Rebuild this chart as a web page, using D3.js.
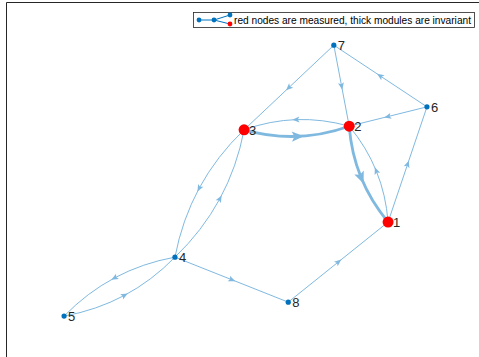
<!DOCTYPE html>
<html>
<head>
<meta charset="utf-8">
<script src="https://cdn.jsdelivr.net/npm/d3@7"></script>
<style>
body { margin:0; background:#fff; }
text { font-family: "Liberation Sans", Arial, sans-serif; }
</style>
</head>
<body>
<div id="chart"></div>
<script>
// graph data
var nodeNames = ["1","2","3","4","5","6","7","8"];
var nodeX = [7.96, 7.15, 4.96, 3.52, 1.21, 8.77, 6.83, 5.88];
var nodeY = [3.11, 5.24, 5.16, 2.33, 1.02, 5.67, 7.04, 1.33];
var measured = ["1","2","3"];
var edgeSource = [1,1,2,2,3,3,4,4,4,5,6,6,7,7,8];
var edgeTarget = [2,6,1,3,2,4,3,5,8,4,2,7,2,3,1];
var invariant = ["2-1","3-2"];
var legendText = "red nodes are measured, thick modules are invariant";

var w = 479, h = 357;
var svg = d3.select("#chart").append("svg").attr("width", w).attr("height", h);

var x = d3.scaleLinear().domain([0, 10]).range([6, 486]);
var y = d3.scaleLinear().domain([0, 8]).range([362, 2]);

var edgeColor = "#80b9e0";

// axes box (cropped at right/bottom)
svg.append("path")
  .attr("d", "M6.5," + h + "V2.5H" + w)
  .attr("fill", "none").attr("stroke", "#262626").attr("stroke-width", 1);

var keys = edgeSource.map(function(s, i){ return s + "-" + edgeTarget[i]; });

var edges = edgeSource.map(function(s, i) {
  var t = edgeTarget[i];
  var x0 = x(nodeX[s-1]), y0 = y(nodeY[s-1]);
  var x1 = x(nodeX[t-1]), y1 = y(nodeY[t-1]);
  var dx = x1 - x0, dy = y1 - y0;
  var curved = keys.indexOf(t + "-" + s) >= 0;
  var k = curved ? 0.16 : 0;
  var cx = (x0 + x1)/2 - dy * k, cy = (y0 + y1)/2 + dx * k;
  // midpoint of quadratic bezier
  var mx = 0.25*x0 + 0.5*cx + 0.25*x1, my = 0.25*y0 + 0.5*cy + 0.25*y1;
  return {x0:x0, y0:y0, x1:x1, y1:y1, cx:cx, cy:cy, mx:mx, my:my,
          ang: Math.atan2(dy, dx) * 180 / Math.PI,
          thick: invariant.indexOf(keys[i]) >= 0};
});

var eg = svg.append("g");
eg.selectAll("path.edge")
  .data(edges)
  .enter()
  .append("path")
  .attr("class", "edge")
  .attr("d", function(d){ return "M" + d.x0 + "," + d.y0 + "Q" + d.cx + "," + d.cy + " " + d.x1 + "," + d.y1; })
  .attr("fill", "none")
  .attr("stroke", edgeColor)
  .attr("stroke-width", function(d){ return d.thick ? 2.8 : 1; });

eg.selectAll("path.arrow")
  .data(edges)
  .enter()
  .append("path")
  .attr("class", "arrow")
  .attr("d", function(d){
    var s = d.thick ? 1.7 : 1;
    return "M" + (4*s) + ",0L" + (-3*s) + "," + (-3*s) + "L" + (-1.5*s) + ",0L" + (-3*s) + "," + (3*s) + "Z";
  })
  .attr("transform", function(d){ return "translate(" + d.mx + "," + d.my + ") rotate(" + d.ang + ")"; })
  .attr("fill", edgeColor);

// nodes
var ng = svg.append("g");
ng.selectAll("circle")
  .data(nodeNames)
  .enter()
  .append("circle")
  .attr("cx", function(d, i){ return x(nodeX[i]); })
  .attr("cy", function(d, i){ return y(nodeY[i]); })
  .attr("r", function(d){ return measured.indexOf(d) >= 0 ? 5.5 : 2.6; })
  .attr("fill", function(d){ return measured.indexOf(d) >= 0 ? "#ff0000" : "#0072bd"; });

ng.selectAll("text")
  .data(nodeNames)
  .enter()
  .append("text")
  .attr("x", function(d, i){ return x(nodeX[i]) + (measured.indexOf(d) >= 0 ? 5 : 4); })
  .attr("y", function(d, i){ return y(nodeY[i]) + 5; })
  .attr("font-size", 13)
  .attr("fill", "#262626")
  .text(function(d){ return d; });

// legend
var lg = svg.append("g");
lg.append("rect")
  .attr("x", 193.5).attr("y", 12.5).attr("width", 281).attr("height", 15)
  .attr("fill", "#fff").attr("stroke", "#262626").attr("stroke-width", 0.8);
lg.append("path")
  .attr("d", "M199,20H214L230,15M214,20L230,24")
  .attr("fill", "none").attr("stroke", "#0072bd").attr("stroke-width", 1);
[[199,20,"#0072bd"],[214,20,"#0072bd"],[230,15,"#0072bd"],[230,24,"#ff0000"]].forEach(function(p){
  lg.append("circle").attr("cx", p[0]).attr("cy", p[1]).attr("r", 2.4).attr("fill", p[2]);
});
lg.append("text")
  .attr("x", 234).attr("y", 23.8)
  .attr("font-size", 10)
  .attr("textLength", 237)
  .attr("lengthAdjust", "spacingAndGlyphs")
  .attr("fill", "#000")
  .text(legendText);
</script>
</body>
</html>
